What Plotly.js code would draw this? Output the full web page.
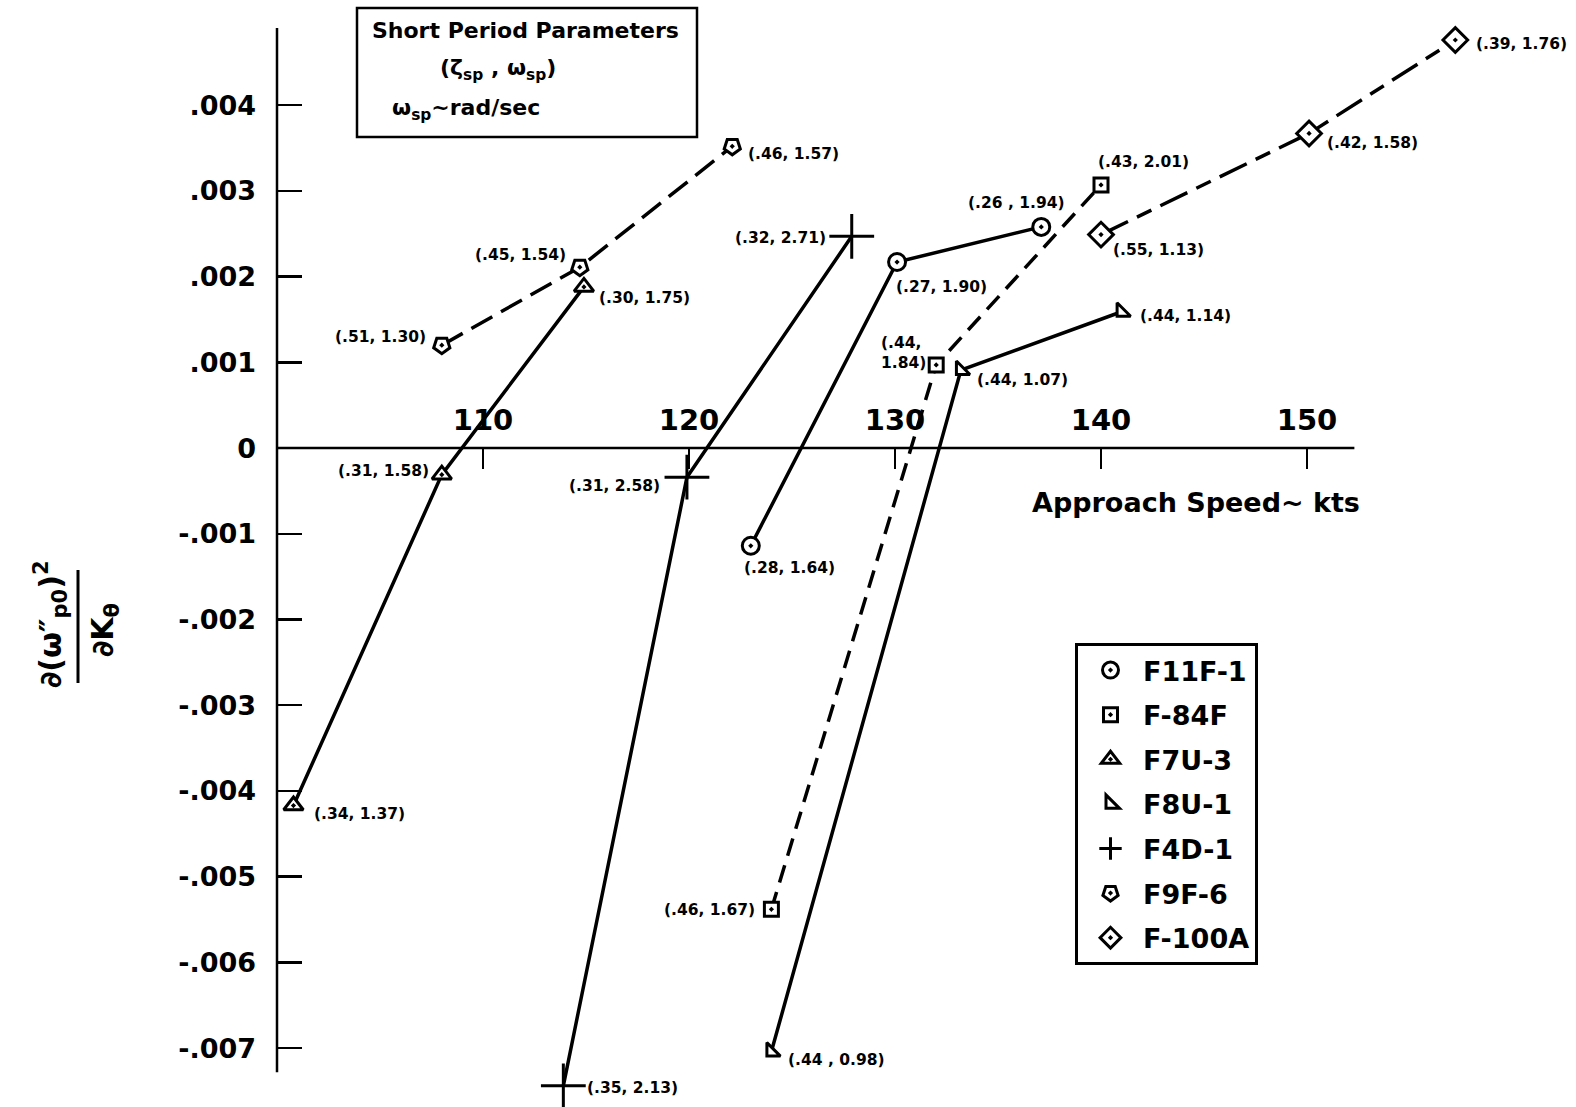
<!DOCTYPE html>
<html>
<head>
<meta charset="utf-8">
<script src="https://cdn.plot.ly/plotly-3.0.1.min.js"></script>
<style>html,body{margin:0;padding:0;background:#fff;}#chart{width:1576px;height:1107px;}</style>
</head>
<body>
<div id="chart"></div>
<script>
// ---------- DATA ----------
const aircraft = ['F11F-1', 'F-84F', 'F7U-3', 'F8U-1', 'F4D-1', 'F9F-6', 'F-100A'];

const f11f1_speed = [123.0, 130.1, 137.1];
const f11f1_value = [-0.00114, 0.00217, 0.00258];
const f11f1_params = ['(.28, 1.64)', '(.27, 1.90)', '(.26 , 1.94)'];

const f84f_speed = [124.0, 132.0, 140.0];
const f84f_value = [-0.00538, 0.00097, 0.00307];
const f84f_params = ['(.46, 1.67)', '(.44,<br>1.84)', '(.43, 2.01)'];

const f7u3_speed = [100.8, 108.0, 114.9];
const f7u3_value = [-0.00417, -0.00031, 0.00188];
const f7u3_params = ['(.34, 1.37)', '(.31, 1.58)', '(.30, 1.75)'];

const f8u1_speed = [124.0, 133.2, 141.0];
const f8u1_value = [-0.00704, 0.00091, 0.00159];
const f8u1_params = ['(.44 , 0.98)', '(.44, 1.07)', '(.44, 1.14)'];

const f4d1_speed = [113.9, 119.9, 127.9];
const f4d1_value = [-0.00744, -0.00034, 0.00247];
const f4d1_params = ['(.35, 2.13)', '(.31, 2.58)', '(.32, 2.71)'];

const f9f6_speed = [108.0, 114.7, 122.1];
const f9f6_value = [0.00120, 0.00211, 0.00352];
const f9f6_params = ['(.51, 1.30)', '(.45, 1.54)', '(.46, 1.57)'];

const f100a_speed = [140.0, 150.1, 157.2];
const f100a_value = [0.00249, 0.00367, 0.00476];
const f100a_params = ['(.55, 1.13)', '(.42, 1.58)', '(.39, 1.76)'];

const xTickVals = [110, 120, 130, 140, 150];
const yTickVals = [0.004, 0.003, 0.002, 0.001, 0, -0.001, -0.002, -0.003, -0.004, -0.005, -0.006, -0.007];
const yTickText = ['.004', '.003', '.002', '.001', '0', '-.001', '-.002', '-.003', '-.004', '-.005', '-.006', '-.007'];

// ---------- STYLE / LAYOUT ----------
const FONT = 'DejaVu Sans';
const W = 1576, H = 1107;
const L = 277, R = 63, T = 28, B = 16;
const PW = W - L - R, PH = H - T - B;
const PX = px => (px - L) / PW;
const PY = py => 1 - (py - T) / PH;

const series = [
  {x: f11f1_speed, y: f11f1_value, t: f11f1_params, symbol: 'circle-dot', size: 17, angle: 0, dash: 'solid',
   lab: [['center', 39, -22], ['left', -3, -25], ['center', -25, 24]]},
  {x: f84f_speed, y: f84f_value, t: f84f_params, symbol: 'square-dot', size: 14, angle: 0, dash: '18px,10px',
   lab: [['right', -14, -1], ['right', -8, 12], ['center', 42, 23]]},
  {x: f7u3_speed, y: f7u3_value, t: f7u3_params, symbol: 'triangle-up-dot', size: 17, angle: 0, dash: 'solid',
   lab: [['left', 19, -8], ['right', -11, 4], ['left', 13, -11]]},
  {x: f8u1_speed, y: f8u1_value, t: f8u1_params, symbol: 'triangle-sw', size: 15, angle: 0, dash: 'solid',
   lab: [['left', 15, -8], ['left', 14, -10], ['left', 16, -4]]},
  {x: f4d1_speed, y: f4d1_value, t: f4d1_params, symbol: 'cross-thin-open', size: 32, angle: 0, dash: 'solid',
   lab: [['left', 22, -2], ['right', -25, -9], ['right', -24, -2]]},
  {x: f9f6_speed, y: f9f6_value, t: f9f6_params, symbol: 'pentagon-dot', size: 17, angle: 180, dash: '24px,10px',
   lab: [['right', -14, 8], ['right', -12, 12], ['left', 14, -8]]},
  {x: f100a_speed, y: f100a_value, t: f100a_params, symbol: 'diamond-dot', size: 19, angle: 0, dash: '30px,10px,16px,10px',
   lab: [['left', 10, -15], ['left', 16, -10], ['left', 19, -4]]}
];

const traces = [];
series.forEach((s, i) => {
  traces.push({
    type: 'scatter', mode: 'lines', x: s.x, y: s.y, showlegend: false, hoverinfo: 'skip',
    line: {color: '#000', width: 3.5, dash: s.dash}
  });
});
series.forEach((s, i) => {
  traces.push({
    type: 'scatter', mode: 'markers', x: s.x, y: s.y, name: aircraft[i],
    legendgroup: 'g' + i, cliponaxis: false,
    marker: {symbol: s.symbol, size: s.size, angle: s.angle, color: s.symbol.indexOf('open') >= 0 ? '#000' : '#fff',
             line: {color: '#000', width: 3}}
  });
});

const annotations = [];
series.forEach(s => {
  s.x.forEach((xv, j) => {
    annotations.push({
      x: xv, y: s.y[j], xref: 'x', yref: 'y', text: s.t[j], showarrow: false,
      xanchor: s.lab[j][0], yanchor: 'middle', xshift: s.lab[j][1], yshift: s.lab[j][2],
      align: 'left', font: {family: FONT, size: 15.5, weight: 'bold', color: '#000'}
    });
  });
});

// title box text
const boxFont = {family: FONT, size: 22, weight: 'bold', color: '#000'};
annotations.push({xref: 'paper', yref: 'paper', x: PX(370), y: PY(30), xanchor: 'left', yanchor: 'middle', showarrow: false,
  text: 'Short Period Parameters', font: boxFont});
annotations.push({xref: 'paper', yref: 'paper', x: PX(438), y: PY(70), xanchor: 'left', yanchor: 'middle', showarrow: false,
  text: '(ζ<sub>sp</sub> , ω<sub>sp</sub>)', font: boxFont});
annotations.push({xref: 'paper', yref: 'paper', x: PX(390), y: PY(110), xanchor: 'left', yanchor: 'middle', showarrow: false,
  text: 'ω<sub>sp</sub>~rad/sec', font: boxFont});

// axis titles
annotations.push({xref: 'paper', yref: 'paper', x: PX(1030), y: PY(502), xanchor: 'left', yanchor: 'middle', showarrow: false,
  text: 'Approach Speed~ kts', font: {family: FONT, size: 27, weight: 'bold', color: '#000'}});
annotations.push({xref: 'paper', yref: 'paper', x: PX(50), y: PY(624), xanchor: 'center', yanchor: 'middle', showarrow: false,
  textangle: -90, text: '∂(ω″<sub>p0</sub>)<sup>2</sup>', font: {family: FONT, size: 30, weight: 'bold', color: '#000'}});
annotations.push({xref: 'paper', yref: 'paper', x: PX(104), y: PY(630), xanchor: 'center', yanchor: 'middle', showarrow: false,
  textangle: -90, text: '∂K<sub>θ</sub>', font: {family: FONT, size: 30, weight: 'bold', color: '#000'}});

const shapes = [
  // x axis line at zero
  {type: 'line', xref: 'x', yref: 'y', x0: 100, x1: 152.3, y0: 0, y1: 0, line: {color: '#000', width: 2.5}},
  // y axis line
  {type: 'line', xref: 'paper', yref: 'y', x0: 0, x1: 0, y0: -0.00728, y1: 0.0049, line: {color: '#000', width: 2.5}},
  // title box
  {type: 'rect', xref: 'paper', yref: 'paper', x0: PX(357), x1: PX(697), y0: PY(8), y1: PY(137), line: {color: '#000', width: 2.5}},
  // y-title fraction bar
  {type: 'line', xref: 'paper', yref: 'paper', x0: PX(78), x1: PX(78), y0: PY(570), y1: PY(683), line: {color: '#000', width: 3}}
];

const yMin = -0.0075, yMax = 0.0049;
const layout = {
  width: W, height: H,
  margin: {l: L, r: R, t: T, b: B},
  paper_bgcolor: '#fff', plot_bgcolor: '#fff',
  font: {family: FONT, color: '#000'},
  showlegend: true,
  legend: {
    x: PX(1075), y: PY(643), xanchor: 'left', yanchor: 'top',
    bordercolor: '#000', borderwidth: 3, bgcolor: '#fff',
    font: {family: FONT, size: 27, weight: 'bold', color: '#000'},
    tracegroupgap: 6.5, traceorder: 'grouped', itemwidth: 55
  },
  xaxis: {
    range: [100, 160], anchor: 'free', position: (0 - yMin) / (yMax - yMin), side: 'top',
    showline: false, showgrid: false, zeroline: false,
    tickmode: 'array', tickvals: xTickVals, ticks: 'inside', ticklen: 20, tickwidth: 2.5, tickcolor: '#000',
    ticklabelstandoff: 12,
    tickfont: {family: FONT, size: 29, weight: 'bold', color: '#000'}
  },
  yaxis: {
    range: [yMin, yMax], showline: false, showgrid: false, zeroline: false,
    tickmode: 'array', tickvals: yTickVals, ticktext: yTickText,
    ticks: 'inside', ticklen: 25, tickwidth: 2.5, tickcolor: '#000',
    ticklabelstandoff: 20,
    tickfont: {family: FONT, size: 27, weight: 'bold', color: '#000'}
  },
  annotations: annotations,
  shapes: shapes
};

Plotly.newPlot('chart', traces, layout, {displayModeBar: false, staticPlot: true});
</script>
</body>
</html>
